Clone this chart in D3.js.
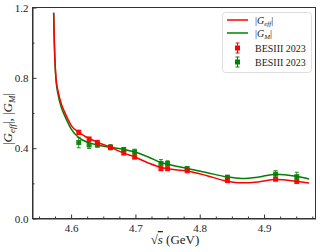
<!DOCTYPE html>
<html><head><meta charset="utf-8">
<script src="https://cdn.jsdelivr.net/npm/d3@7"></script>
<style>
body{margin:0;background:#fff;}
text{font-family:"Liberation Serif","DejaVu Serif",serif;fill:#222;}
</style></head>
<body><svg id="c" width="320" height="252"></svg>
<script>
const energies = [4.6119, 4.6280, 4.6409, 4.6612, 4.6819, 4.6988, 4.7397, 4.7500, 4.7805, 4.8431, 4.9180, 4.9509];
const geffValues = [0.490, 0.452, 0.433, 0.405, 0.372, 0.349, 0.283, 0.283, 0.271, 0.215, 0.223, 0.210];
const geffErrors = [0.012, 0.010, 0.010, 0.010, 0.009, 0.009, 0.010, 0.008, 0.007, 0.007, 0.008, 0.008];
const gmValues = [0.432, 0.418, 0.418, 0.405, 0.392, 0.379, 0.313, 0.313, 0.284, 0.235, 0.252, 0.238];
const gmErrors = [0.030, 0.020, 0.012, 0.015, 0.012, 0.015, 0.022, 0.015, 0.010, 0.010, 0.020, 0.025];
const curveX = [4.5729, 4.574, 4.5765, 4.580, 4.585, 4.590, 4.595, 4.600, 4.612, 4.628, 4.641, 4.661, 4.682, 4.699, 4.720, 4.740, 4.750, 4.780, 4.810, 4.843, 4.865, 4.890, 4.918, 4.950, 4.970];
const geffCurve = [1.17, 1.0, 0.80, 0.72, 0.65, 0.605, 0.565, 0.53, 0.49, 0.455, 0.434, 0.405, 0.372, 0.35, 0.316, 0.29, 0.283, 0.27, 0.245, 0.212, 0.203, 0.208, 0.222, 0.212, 0.202];
const gmCurve = [1.17, 0.99, 0.79, 0.70, 0.63, 0.585, 0.545, 0.51, 0.46, 0.43, 0.418, 0.405, 0.392, 0.378, 0.35, 0.318, 0.308, 0.285, 0.262, 0.236, 0.228, 0.235, 0.252, 0.24, 0.225];
const xMajorTicks = [4.6, 4.7, 4.8, 4.9];
const yMajorTicks = [0.0, 0.4, 0.8, 1.2];
const legendLabels = ["|G_eff|", "|G_M|", "BESIII 2023", "BESIII 2023"];

const RED = "#ff0000", GREEN = "#008000";
const svg = d3.select("#c");
const L = 32.5, R = 315.5, T = 7.5, B = 218.5;
const x = d3.scaleLinear().domain([4.54, 4.98]).range([L, R]);
const y = d3.scaleLinear().domain([0, 1.2]).range([B, T]);

// frame
svg.append("rect").attr("x", L).attr("y", T).attr("width", R - L).attr("height", B - T)
  .attr("fill", "none").attr("stroke", "#333").attr("stroke-width", 1);

// x axis
const xMinor = d3.range(4.55, 4.98, 0.025).filter(v => !xMajorTicks.some(t => Math.abs(t - v) < 1e-6));
const xAxis = d3.axisBottom(x).tickValues(xMajorTicks).tickFormat(d3.format(".1f")).tickSizeInner(-4).tickSizeOuter(0).tickPadding(6);
const gx = svg.append("g").attr("transform", `translate(0,${B})`).call(xAxis);
gx.select(".domain").attr("stroke", "#333");
gx.selectAll(".tick line").attr("stroke", "#333");
gx.selectAll("text").attr("font-size", 11).attr("font-family", "Liberation Serif").attr("fill", "#222");
svg.append("g").attr("transform", `translate(0,${B})`)
  .call(d3.axisBottom(x).tickValues(xMinor).tickFormat("").tickSizeInner(-2).tickSizeOuter(0))
  .call(g => { g.select(".domain").remove(); g.selectAll("line").attr("stroke", "#333"); });

// y axis
const yAxis = d3.axisLeft(y).tickValues(yMajorTicks).tickFormat(d3.format(".1f")).tickSizeInner(-4).tickSizeOuter(0).tickPadding(4);
const gy = svg.append("g").attr("transform", `translate(${L},0)`).call(yAxis);
gy.select(".domain").attr("stroke", "#333");
gy.selectAll(".tick line").attr("stroke", "#333");
gy.selectAll("text").attr("font-size", 11).attr("font-family", "Liberation Serif").attr("fill", "#222");
svg.append("g").attr("transform", `translate(${L},0)`)
  .call(d3.axisLeft(y).tickValues([0.2, 0.6, 1.0]).tickFormat("").tickSizeInner(-2).tickSizeOuter(0))
  .call(g => { g.select(".domain").remove(); g.selectAll("line").attr("stroke", "#333"); });

// curves
const line = d3.line().x(d => x(d[0])).y(d => y(d[1])).curve(d3.curveMonotoneX);
const gmData = curveX.map((v, i) => [v, gmCurve[i]]);
const geffData = curveX.map((v, i) => [v, geffCurve[i]]);
svg.append("path").datum(gmData).attr("d", line).attr("fill", "none").attr("stroke", GREEN).attr("stroke-width", 1.5);
svg.append("path").datum(geffData).attr("d", line).attr("fill", "none").attr("stroke", RED).attr("stroke-width", 1.5);

// points
function drawPoints(vals, errs, color) {
  const g = svg.append("g");
  energies.forEach((e, i) => {
    const cx = x(e), cy = y(vals[i]), y1 = y(vals[i] + errs[i]), y2 = y(vals[i] - errs[i]);
    g.append("line").attr("x1", cx).attr("x2", cx).attr("y1", y1).attr("y2", y2).attr("stroke", color).attr("stroke-width", 1).attr("opacity", 0.85);
    [y1, y2].forEach(yy => g.append("line").attr("x1", cx - 2).attr("x2", cx + 2).attr("y1", yy).attr("y2", yy).attr("stroke", color).attr("stroke-width", 1).attr("opacity", 0.85));
    g.append("rect").attr("x", cx - 2.5).attr("y", cy - 2.5).attr("width", 5).attr("height", 5).attr("fill", color).attr("opacity", 0.9);
  });
}
drawPoints(gmValues, gmErrors, GREEN);
drawPoints(geffValues, geffErrors, RED);

// legend
const lg = svg.append("g");
lg.append("rect").attr("x", 222.5).attr("y", 12.5).attr("width", 89).attr("height", 60).attr("rx", 3)
  .attr("fill", "#fff").attr("stroke", "#ddd").attr("stroke-width", 1);
const rowsY = [20, 33, 48, 62];
const colors = [RED, GREEN, RED, GREEN];
rowsY.forEach((ry, i) => {
  if (i < 2) {
    lg.append("line").attr("x1", 227).attr("x2", 248).attr("y1", ry).attr("y2", ry).attr("stroke", colors[i]).attr("stroke-width", 1.5);
  } else {
    lg.append("line").attr("x1", 237.5).attr("x2", 237.5).attr("y1", ry - 5).attr("y2", ry + 5).attr("stroke", colors[i]).attr("stroke-width", 1);
    [ry - 5, ry + 5].forEach(yy => lg.append("line").attr("x1", 235.5).attr("x2", 239.5).attr("y1", yy).attr("y2", yy).attr("stroke", colors[i]));
    lg.append("rect").attr("x", 235).attr("y", ry - 2.5).attr("width", 5).attr("height", 5).attr("fill", colors[i]);
  }
  const t = lg.append("text").attr("x", 255).attr("y", ry + 3.5).attr("font-size", 10);
  const lab = legendLabels[i];
  if (lab.includes("_")) {
    const [base, sub] = lab.replace(/\|/g, "").split("_");
    t.append("tspan").text("|");
    t.append("tspan").attr("font-style", "italic").text(base);
    t.append("tspan").attr("font-style", "italic").attr("font-size", 7).attr("dy", 2).text(sub);
    t.append("tspan").attr("dy", -2).text("|");
  } else {
    t.text(lab);
  }
});

// x label
const xl = svg.append("text").attr("x", 175).attr("y", 244).attr("text-anchor", "middle").attr("font-size", 13);
xl.append("tspan").text("\u221A");
xl.append("tspan").attr("font-style", "italic").attr("text-decoration", "overline").text("s");
xl.append("tspan").text(" (GeV)");

// y label
const yl = svg.append("text").attr("transform", "translate(12,119) rotate(-90)").attr("text-anchor", "middle").attr("font-size", 13);
yl.append("tspan").text("|");
yl.append("tspan").attr("font-style", "italic").text("G");
yl.append("tspan").attr("font-style", "italic").attr("font-size", 9).attr("dy", 3).text("eff");
yl.append("tspan").attr("dy", -3).text("|, |");
yl.append("tspan").attr("font-style", "italic").text("G");
yl.append("tspan").attr("font-style", "italic").attr("font-size", 9).attr("dy", 3).text("M");
yl.append("tspan").attr("dy", -3).text("|");
</script></body></html>
